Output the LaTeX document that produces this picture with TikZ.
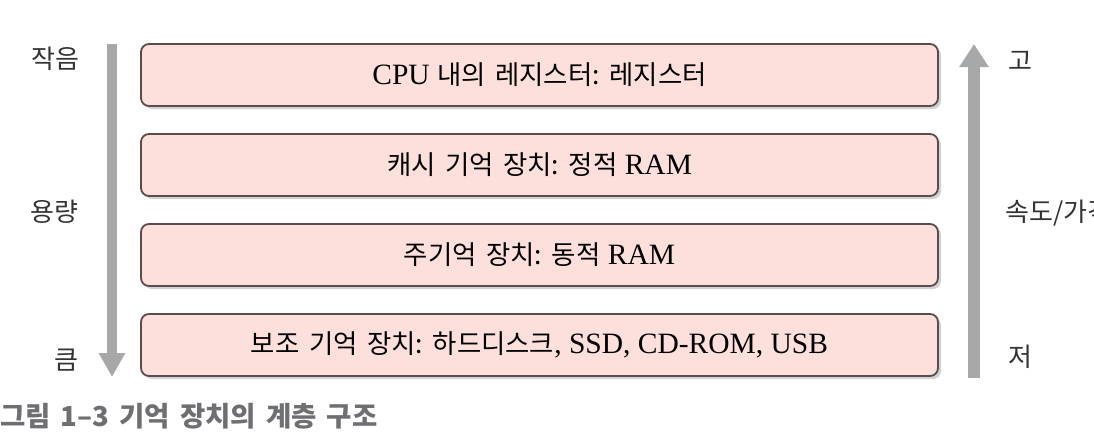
\documentclass[tikz,border=0pt]{standalone}
\usepackage{fontspec}
\setmainfont{Liberation Serif}
\newfontfamily\kr[WordSpace={1.6}]{Noto Sans CJK KR}
\usetikzlibrary{arrows.meta,shadows}
\definecolor{boxfill}{HTML}{FDE0DC}
\definecolor{boxline}{HTML}{5B4D4D}
\definecolor{arrowgray}{HTML}{A7A8AA}
\definecolor{capgray}{HTML}{6E6F72}
\definecolor{labtext}{HTML}{333333}
\newcommand{\K}[1]{{\kr\fontsize{26.4}{29}\selectfont #1}}
\tikzset{
  levelbox/.style={draw=boxline, fill=boxfill, line width=1.8pt, rounded corners=8pt,
    minimum width=797pt, minimum height=62pt, inner sep=0pt, font=\fontsize{29.5}{31}\selectfont,
    drop shadow={shadow xshift=3pt, shadow yshift=-3pt, fill=black!22, opacity=0.8}},
  sidelabel/.style={font=\kr\fontsize{26}{28}\selectfont, text=labtext, inner sep=0pt},
  bigarrow/.style={draw=arrowgray, line width=#1}
}
\begin{document}
\begin{tikzpicture}[x=1pt,y=-1pt]
\useasboundingbox (0,0) rectangle (1094,434);
\node[levelbox] (b1) at (539.5,75) {CPU \K{내의 레지스터:} \K{레지스터}};
\node[levelbox] (b2) at (539.5,165) {\K{캐시 기억 장치:} \K{정적} RAM};
\node[levelbox] (b3) at (539.5,255) {\K{주기억 장치:} \K{동적} RAM};
\node[levelbox] (b4) at (539.5,345) {\K{보조 기억 장치:} \K{하드디스크}, SSD, CD-ROM, USB};
% left arrow
\coordinate (la) at (112,44);
\coordinate (lb) at (112,377);
\draw[bigarrow=10pt, -{Triangle[width=25pt,length=24pt]}] (la) -- (lb);
% right arrow
\coordinate (ra) at (974,378);
\coordinate (rb) at (974,44);
\draw[bigarrow=12pt, -{Triangle[width=28pt,length=23pt]}] (ra) -- (rb);
% side labels
\node[sidelabel, anchor=west] (small) at (31,59) {작음};
\node[sidelabel, anchor=west] (cap) at (30,212) {용량};
\node[sidelabel, anchor=west] (big) at (54,360) {큼};
\node[sidelabel, anchor=west] (hi) at (1008,61) {고};
\node[sidelabel, anchor=west] (sp) at (1005,213) {속도/가격};
\node[sidelabel, anchor=west] (lo) at (1008,357) {저};
% caption
\node[anchor=west, inner sep=0pt, text=capgray, font=\kr\bfseries\fontsize{27.5}{30}\selectfont] (caption) at (0,416) {그림 1–3 기억 장치의 계층 구조};
\end{tikzpicture}
\end{document}
